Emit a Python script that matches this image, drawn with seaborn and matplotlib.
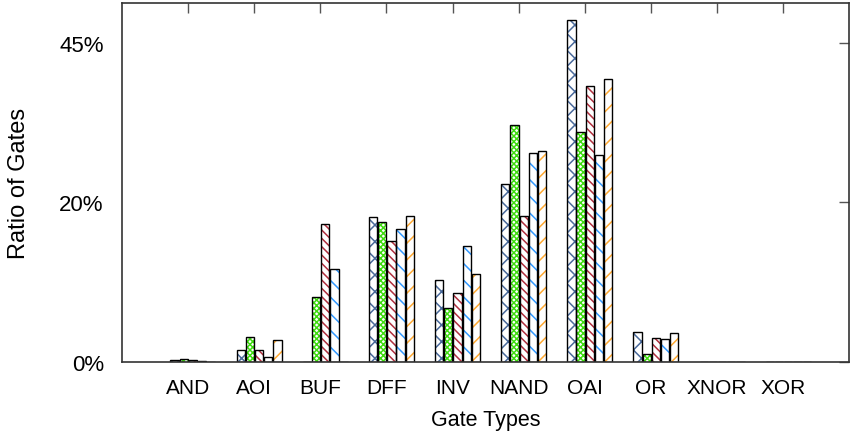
import numpy as np
import pandas as pd
import matplotlib
matplotlib.use("Agg")
import matplotlib.pyplot as plt
import seaborn as sns

# gate types on the x axis
gates = ["AND", "AOI", "BUF", "DFF", "INV", "NAND", "OAI", "OR", "XNOR", "XOR"]

# ratio of gates (%) for each of the five designs
s1 = [0.2, 1.5, 0.0, 18.2, 10.3, 22.9, 48.6, 3.7, 0.0, 0.0]
s2 = [0.35, 3.1, 8.1, 17.6, 6.8, 32.1, 31.1, 1.0, 0.0, 0.0]
s3 = [0.2, 1.5, 17.3, 15.1, 8.6, 18.3, 38.3, 3.0, 0.0, 0.0]
s4 = [0.1, 0.6, 11.7, 16.7, 14.5, 27.7, 27.5, 2.8, 0.0, 0.0]
s5 = [0.0, 2.75, 0.0, 18.3, 11.0, 28.0, 39.3, 3.6, 0.0, 0.0]
series = ["s1", "s2", "s3", "s4", "s5"]

ytick_vals = [0, 20, 45]
ytick_labels = ["0%", "20%", "45%"]

colors = ["#4a6a9b", "#3fdc10", "#b0303f", "#3399ff", "#ffaa33"]
hatches = ["xx", "xxxxxx", "\\\\\\\\", "\\\\", "//"]

df = pd.DataFrame({
    "gate": np.repeat(gates, 5),
    "series": series * len(gates),
    "ratio": np.column_stack([s1, s2, s3, s4, s5]).ravel(),
})


# axis is spaced evenly between the labelled ticks (0-20 and 20-45 same length)
def fwd(v):
    v = np.asarray(v, dtype=float)
    return np.where(v <= 20, v, 20 + (v - 20) * 20 / 25)


def inv(u):
    u = np.asarray(u, dtype=float)
    return np.where(u <= 20, u, 20 + (u - 20) * 25 / 20)


sns.set_style("white")
plt.rcParams["font.family"] = ["Liberation Sans", "DejaVu Sans"]
plt.rcParams["hatch.linewidth"] = 1.1
plt.rcParams["text.color"] = "black"
plt.rcParams["axes.labelcolor"] = "black"
plt.rcParams["xtick.labelcolor"] = "black"
plt.rcParams["ytick.labelcolor"] = "black"

fig, ax = plt.subplots(figsize=(8.52, 4.35), dpi=100)
fig.subplots_adjust(left=0.143, right=0.997, top=0.991, bottom=0.166)

sns.barplot(data=df, x="gate", y="ratio", hue="series", order=gates,
            hue_order=series, palette=colors, width=0.695, gap=0.1,
            legend=False, ax=ax)
shift = 0.075
bars = list(ax.patches)
for k, p in enumerate(bars):
    j = k // len(gates)
    p.set_x(p.get_x() + shift)
    p.set_facecolor("white")
    p.set_edgecolor(colors[j])
    p.set_hatch(hatches[j])
    p.set_linewidth(0)
    ax.add_patch(plt.Rectangle((p.get_x(), 0), p.get_width(), p.get_height(),
                               fill=False, edgecolor="black", linewidth=1.0))

ax.set_yscale("function", functions=(fwd, inv))
ax.set_ylim(0, 51.3)
ax.set_xlim(-1, 10)
ax.set_yticks(ytick_vals)
ax.set_yticklabels(ytick_labels)
ax.set_xticks(range(len(gates)))
ax.set_xticklabels(gates)
ax.minorticks_off()

ax.tick_params(axis="both", direction="in", length=7, width=1, color="#555555",
               top=True, right=True)
ax.tick_params(axis="x", labelsize=15, pad=12)
ax.tick_params(axis="y", labelsize=16, pad=13)
for s in ax.spines.values():
    s.set_visible(True)
    s.set_color("#333333")
    s.set_linewidth(1.2)

ax.set_xlabel("Gate Types", fontsize=15.5, labelpad=8)
ax.set_ylabel("Ratio of Gates", fontsize=17, labelpad=21)

fig.savefig("out.png", dpi=100)
plt.close()
